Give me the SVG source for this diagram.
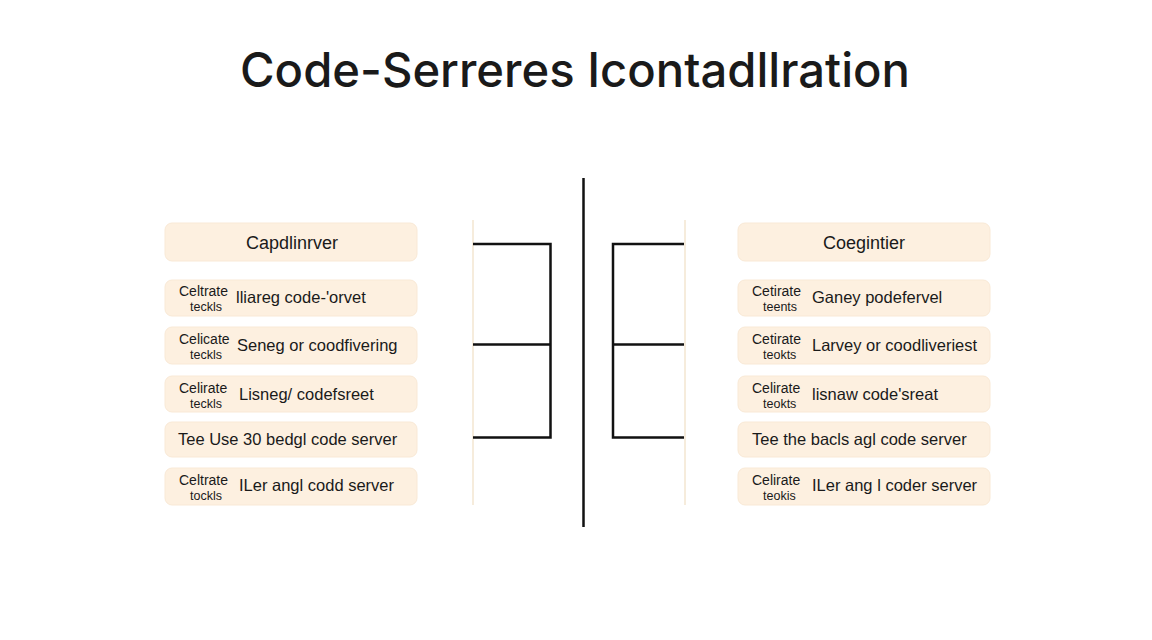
<svg xmlns="http://www.w3.org/2000/svg" width="1152" height="640" viewBox="0 0 1152 640">
<style>
.box{fill:#fdf0e0;stroke:#f9e9d6;stroke-width:1}
.t{font-family:"Liberation Sans",Arial,sans-serif;fill:#1a1a1a}
.hd{font-size:18px;text-anchor:middle}
.s1{font-size:14px}
.s2{font-size:12.5px}
.m{font-size:16.5px}
.ln{stroke:#111;stroke-width:2.5;fill:none}
.fl{stroke:#f6ecdc;stroke-width:2;fill:none}
</style>
<rect width="1152" height="640" fill="#ffffff"/>
<text class="t" x="575" y="87" font-size="48" font-weight="500" text-anchor="middle" textLength="670" lengthAdjust="spacingAndGlyphs" style="font-family:Inter,'Liberation Sans',sans-serif">Code-Serreres Icontadllration</text>

<g id="connectors">
<line class="ln" x1="583.5" y1="178" x2="583.5" y2="527"/>
<line class="fl" x1="473" y1="220" x2="473" y2="505"/>
<line class="fl" x1="685" y1="220" x2="685" y2="505"/>
<polyline class="ln" points="473,244 550.5,244 550.5,437.5 473,437.5"/>
<line class="ln" x1="473" y1="344.5" x2="550.5" y2="344.5"/>
<polyline class="ln" points="684,244 613,244 613,437.5 684,437.5"/>
<line class="ln" x1="613" y1="344.5" x2="684" y2="344.5"/>
</g>

<g id="left-head"><rect class="box" x="165" y="223" width="252" height="38" rx="7"/><text class="t hd" x="292" y="249">Capdlinrver</text></g>
<g id="left-1"><rect class="box" x="165" y="280" width="252" height="36" rx="7"/><text class="t s1" x="179" y="296">Celtrate</text><text class="t s2" x="190" y="311">teckls</text><text class="t m" x="236" y="303">lliareg code-'orvet</text></g>
<g id="left-2"><rect class="box" x="165" y="327" width="252" height="37" rx="7"/><text class="t s1" x="179" y="344">Celicate</text><text class="t s2" x="190" y="359">teckls</text><text class="t m" x="237" y="351">Seneg or coodfivering</text></g>
<g id="left-3"><rect class="box" x="165" y="376" width="252" height="36" rx="7"/><text class="t s1" x="179" y="393">Celirate</text><text class="t s2" x="190" y="408">teckls</text><text class="t m" x="239" y="400">Lisneg/ codefsreet</text></g>
<g id="left-4"><rect class="box" x="165" y="422" width="252" height="35" rx="7"/><text class="t m" x="178" y="445">Tee Use 30 bedgl code server</text></g>
<g id="left-5"><rect class="box" x="165" y="468" width="252" height="37" rx="7"/><text class="t s1" x="179" y="485">Celtrate</text><text class="t s2" x="190" y="500">tockls</text><text class="t m" x="239" y="491">ILer angl codd server</text></g>

<g id="right-head"><rect class="box" x="738" y="223" width="252" height="38" rx="7"/><text class="t hd" x="864" y="249">Coegintier</text></g>
<g id="right-1"><rect class="box" x="738" y="280" width="252" height="36" rx="7"/><text class="t s1" x="752" y="296">Cetirate</text><text class="t s2" x="763" y="311">teents</text><text class="t m" x="812" y="303">Ganey podefervel</text></g>
<g id="right-2"><rect class="box" x="738" y="327" width="252" height="37" rx="7"/><text class="t s1" x="752" y="344">Cetirate</text><text class="t s2" x="763" y="359">teokts</text><text class="t m" x="812" y="351">Larvey or coodliveriest</text></g>
<g id="right-3"><rect class="box" x="738" y="376" width="252" height="36" rx="7"/><text class="t s1" x="752" y="393">Celirate</text><text class="t s2" x="763" y="408">teokts</text><text class="t m" x="812" y="400">lisnaw code'sreat</text></g>
<g id="right-4"><rect class="box" x="738" y="422" width="252" height="35" rx="7"/><text class="t m" x="752" y="445">Tee the bacls agl code server</text></g>
<g id="right-5"><rect class="box" x="738" y="468" width="252" height="37" rx="7"/><text class="t s1" x="752" y="485">Celirate</text><text class="t s2" x="763" y="500">teokis</text><text class="t m" x="812" y="491">ILer ang l coder server</text></g>
</svg>
